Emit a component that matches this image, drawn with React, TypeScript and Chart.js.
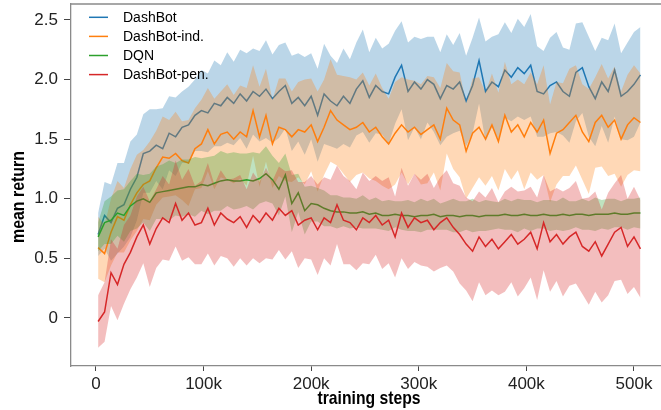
import { useEffect, useRef } from "react";
import { Chart, registerables } from "chart.js";

Chart.register(...registerables);

// training steps (in thousands)
const steps = [
  2, 8, 14, 20, 26, 32, 38, 44, 50, 56,
  62, 68, 74, 80, 86, 92, 98, 104, 110, 116,
  122, 128, 134, 140, 146, 152, 158, 164, 170, 176,
  182, 188, 194, 200, 206, 212, 218, 224, 230, 236,
  242, 248, 254, 260, 266, 272, 278, 284, 290, 296,
  302, 308, 314, 320, 326, 332, 338, 344, 350, 356,
  362, 368, 374, 380, 386, 392, 398, 404, 410, 416,
  422, 428, 434, 440, 446, 452, 458, 464, 470, 476,
  482, 488, 494, 500, 506,
];

const seriesNames = ["DashBot", "DashBot-ind.", "DQN", "DashBot-pen."];
const seriesColors = ["#1f77b4", "#ff7f0e", "#2ca02c", "#d62728"];
const bandColors = [
  "rgba(31,119,180,0.3)",
  "rgba(255,127,14,0.3)",
  "rgba(44,160,44,0.3)",
  "rgba(214,39,40,0.3)",
];

const dashbotMean = [
  0.70, 0.86, 0.80, 0.92, 0.95, 1.08, 1.18, 1.38, 1.40, 1.45,
  1.42, 1.55, 1.52, 1.60, 1.62, 1.70, 1.74, 1.72, 1.80, 1.78,
  1.85, 1.80, 1.88, 1.82, 1.90, 1.86, 1.92, 1.84, 1.90, 1.95,
  1.80, 1.85, 1.78, 1.86, 1.70, 1.88, 1.82, 1.78, 1.86, 1.80,
  1.92, 1.99, 1.85, 1.95, 1.90, 1.88, 2.02, 2.12, 1.90, 1.98,
  1.92, 2.00, 1.96, 1.84, 1.95, 1.92, 1.98, 1.82, 1.95, 2.16,
  1.90, 1.98, 1.94, 2.08, 2.02, 2.10, 2.05, 2.12, 1.90, 1.88,
  1.95, 1.98, 1.90, 1.86, 2.06, 2.10, 1.94, 1.84, 1.98, 1.90,
  2.08, 1.86, 1.90, 1.96, 2.04,
];
const dashbotStd = [
  0.18, 0.28, 0.32, 0.38, 0.35, 0.40, 0.36, 0.33, 0.35, 0.30,
  0.34, 0.31, 0.33, 0.30, 0.32, 0.30, 0.34, 0.33, 0.36, 0.34,
  0.38, 0.35, 0.37, 0.40, 0.36, 0.38, 0.41, 0.37, 0.39, 0.36,
  0.40, 0.37, 0.41, 0.36, 0.39, 0.42, 0.38, 0.36, 0.40, 0.37,
  0.39, 0.43, 0.38, 0.40, 0.36, 0.42, 0.39, 0.37, 0.41, 0.38,
  0.42, 0.36, 0.40, 0.39, 0.43, 0.37, 0.41, 0.38, 0.40, 0.36,
  0.42, 0.38, 0.44, 0.40, 0.37, 0.41, 0.39, 0.43, 0.38, 0.36,
  0.40, 0.42, 0.37, 0.39, 0.41, 0.38, 0.42, 0.40, 0.37, 0.43,
  0.39, 0.36, 0.41, 0.44, 0.40,
];

const indMean = [
  0.59, 0.54, 0.72, 0.85, 0.82, 0.95, 1.05, 1.12, 1.15, 1.26,
  1.35, 1.34, 1.38, 1.32, 1.30, 1.42, 1.46, 1.58, 1.46, 1.54,
  1.56, 1.50, 1.56, 1.52, 1.74, 1.52, 1.70, 1.46, 1.60, 1.58,
  1.52, 1.58, 1.56, 1.62, 1.48, 1.60, 1.74, 1.66, 1.62, 1.58,
  1.60, 1.64, 1.56, 1.60, 1.52, 1.46, 1.55, 1.62, 1.56, 1.60,
  1.54, 1.58, 1.62, 1.50, 1.76, 1.66, 1.62, 1.40, 1.55, 1.60,
  1.50, 1.62, 1.48, 1.70, 1.56, 1.62, 1.52, 1.64, 1.56, 1.66,
  1.38, 1.55, 1.58, 1.64, 1.70, 1.56, 1.48, 1.64, 1.70, 1.60,
  1.66, 1.50, 1.62, 1.68, 1.64,
];
const indStd = [
  0.26, 0.24, 0.28, 0.30, 0.27, 0.30, 0.32, 0.29, 0.33, 0.31,
  0.34, 0.32, 0.35, 0.33, 0.36, 0.34, 0.37, 0.35, 0.38, 0.36,
  0.40, 0.37, 0.39, 0.41, 0.38, 0.42, 0.39, 0.37, 0.41, 0.43,
  0.38, 0.40, 0.44, 0.39, 0.42, 0.40, 0.43, 0.38, 0.41, 0.44,
  0.40, 0.42, 0.39, 0.45, 0.41, 0.38, 0.43, 0.40, 0.44, 0.39,
  0.42, 0.45, 0.40, 0.43, 0.38, 0.41, 0.44, 0.40, 0.46, 0.42,
  0.39, 0.43, 0.41, 0.45, 0.40, 0.38, 0.44, 0.42, 0.40, 0.46,
  0.41, 0.43, 0.39, 0.45, 0.42, 0.40, 0.44, 0.38, 0.43, 0.41,
  0.45, 0.40, 0.42, 0.44, 0.41,
];

const dqnMean = [
  0.68, 0.80, 0.82, 0.88, 0.86, 0.94, 0.98, 1.00, 0.97, 1.05,
  1.06, 1.07, 1.08, 1.09, 1.10, 1.10, 1.12, 1.11, 1.13, 1.15,
  1.16, 1.15, 1.15, 1.16, 1.15, 1.17, 1.21, 1.16, 1.08, 1.20,
  0.96, 1.05, 0.90, 0.96, 0.95, 0.92, 0.90, 0.89, 0.89, 0.88,
  0.88, 0.89, 0.87, 0.88, 0.86, 0.86, 0.87, 0.86, 0.86, 0.85,
  0.86, 0.86, 0.87, 0.85, 0.86, 0.86, 0.85, 0.86, 0.86, 0.85,
  0.86, 0.86, 0.86, 0.87, 0.86, 0.86, 0.87, 0.86, 0.86, 0.87,
  0.86, 0.86, 0.87, 0.86, 0.87, 0.87, 0.86, 0.87, 0.87, 0.87,
  0.88, 0.87, 0.87, 0.88, 0.88,
];
const dqnStd = [
  0.12, 0.18, 0.20, 0.19, 0.22, 0.21, 0.23, 0.20, 0.24, 0.22,
  0.23, 0.25, 0.22, 0.24, 0.23, 0.25, 0.22, 0.24, 0.23, 0.25,
  0.22, 0.24, 0.23, 0.22, 0.24, 0.21, 0.23, 0.20, 0.22, 0.18,
  0.24, 0.16, 0.20, 0.15, 0.14, 0.15, 0.13, 0.14, 0.12, 0.13,
  0.12, 0.14, 0.12, 0.13, 0.12, 0.13, 0.11, 0.12, 0.13, 0.12,
  0.14, 0.12, 0.13, 0.11, 0.12, 0.14, 0.13, 0.12, 0.14, 0.12,
  0.13, 0.12, 0.11, 0.13, 0.12, 0.14, 0.12, 0.13, 0.11, 0.12,
  0.13, 0.12, 0.14, 0.12, 0.11, 0.13, 0.12, 0.14, 0.12, 0.13,
  0.12, 0.11, 0.13, 0.12, 0.13,
];

const penMean = [
  -0.03, 0.05, 0.38, 0.28, 0.45, 0.55, 0.68, 0.78, 0.62, 0.75,
  0.84, 0.80, 0.96, 0.82, 0.88, 0.78, 0.80, 0.92, 0.78, 0.88,
  0.83, 0.80, 0.85, 0.76, 0.86, 0.80, 0.88, 0.82, 0.92, 0.86,
  0.90, 0.78, 0.82, 0.84, 0.74, 0.84, 0.80, 0.95, 0.82, 0.80,
  0.74, 0.84, 0.80, 0.86, 0.78, 0.82, 0.68, 0.88, 0.76, 0.84,
  0.80, 0.82, 0.74, 0.80, 0.84, 0.76, 0.70, 0.62, 0.56, 0.68,
  0.60, 0.66, 0.58, 0.64, 0.70, 0.62, 0.66, 0.72, 0.58, 0.80,
  0.64, 0.70, 0.62, 0.68, 0.72, 0.60, 0.56, 0.64, 0.52, 0.62,
  0.72, 0.76, 0.60, 0.68, 0.58,
];
const penStd = [
  0.22, 0.25, 0.28, 0.30, 0.33, 0.31, 0.34, 0.32, 0.36, 0.33,
  0.35, 0.32, 0.36, 0.34, 0.37, 0.33, 0.35, 0.38, 0.34, 0.36,
  0.33, 0.37, 0.35, 0.32, 0.36, 0.34, 0.38, 0.33, 0.35, 0.37,
  0.34, 0.36, 0.32, 0.35, 0.38, 0.34, 0.36, 0.33, 0.37, 0.35,
  0.34, 0.38, 0.35, 0.33, 0.37, 0.36, 0.34, 0.38, 0.35, 0.37,
  0.36, 0.39, 0.35, 0.38, 0.40, 0.37, 0.41, 0.39, 0.42, 0.38,
  0.41, 0.43, 0.39, 0.42, 0.40, 0.44, 0.41, 0.38, 0.43, 0.40,
  0.42, 0.39, 0.44, 0.41, 0.43, 0.40, 0.45, 0.42, 0.39, 0.43,
  0.41, 0.44, 0.40, 0.42, 0.41,
];

const xTicks = [0, 100, 200, 300, 400, 500];
const xTickLabels = ["0", "100k", "200k", "300k", "400k", "500k"];
const yTicks = [0, 0.5, 1.0, 1.5, 2.0, 2.5];
const yTickLabels = ["0", "0.5", "1.0", "1.5", "2.0", "2.5"];

const xTitle = "training steps";
const yTitle = "mean return";

const means = [dashbotMean, indMean, dqnMean, penMean];
const stds = [dashbotStd, indStd, dqnStd, penStd];

const TICK_FONT = "'Liberation Sans', Arial, sans-serif";
const TITLE_FONT = "bold 19px 'Liberation Sans', Arial, sans-serif";

function drawCondensed(ctx: CanvasRenderingContext2D, text: string, x: number, y: number, width: number) {
  const w = ctx.measureText(text).width;
  const s = w > 0 ? width / w : 1;
  ctx.save();
  ctx.translate(x, y);
  ctx.scale(s, 1);
  ctx.fillText(text, 0, 0);
  ctx.restore();
}

export default function App() {
  const canvasRef = useRef<HTMLCanvasElement | null>(null);

  useEffect(() => {
    const canvas = canvasRef.current;
    if (!canvas) return;

    const datasets: any[] = [];
    means.forEach((mean, k) => {
      const std = stds[k];
      const base = 80 - k * 10;
      const lowerIndex = datasets.length;
      datasets.push({
        label: "_lower" + k,
        data: steps.map((x, i) => ({ x, y: mean[i] - std[i] })),
        borderWidth: 0,
        pointRadius: 0,
        fill: false,
        order: base - 2,
      });
      datasets.push({
        label: "_upper" + k,
        data: steps.map((x, i) => ({ x, y: mean[i] + std[i] })),
        borderWidth: 0,
        pointRadius: 0,
        backgroundColor: bandColors[k],
        fill: { target: lowerIndex },
        order: base - 1,
      });
      datasets.push({
        label: seriesNames[k],
        data: steps.map((x, i) => ({ x, y: mean[i] })),
        borderColor: seriesColors[k],
        borderWidth: 1.5,
        pointRadius: 0,
        fill: false,
        tension: 0,
        order: base,
      });
    });

    const decorPlugin = {
      id: "decor",
      afterDraw(chart: any) {
        const { ctx, chartArea } = chart;
        ctx.save();
        // top spine
        ctx.strokeStyle = "#8a8a8a";
        ctx.lineWidth = 1.3;
        ctx.beginPath();
        ctx.moveTo(chartArea.left, chartArea.top);
        ctx.lineTo(chartArea.right, chartArea.top);
        ctx.stroke();

        // legend
        ctx.font = "14px " + TICK_FONT;
        ctx.textBaseline = "middle";
        ctx.textAlign = "left";
        seriesNames.forEach((name, k) => {
          const y = chartArea.top + 13.3 + k * 19.1;
          ctx.strokeStyle = seriesColors[k];
          ctx.lineWidth = 1.5;
          ctx.beginPath();
          ctx.moveTo(chartArea.left + 18, y);
          ctx.lineTo(chartArea.left + 37, y);
          ctx.stroke();
          ctx.fillStyle = "#000";
          ctx.fillText(name, chartArea.left + 52, y + 0.5);
        });

        // axis titles
        ctx.fillStyle = "#000";
        ctx.font = TITLE_FONT;
        ctx.textAlign = "center";
        ctx.textBaseline = "alphabetic";
        drawCondensed(ctx, xTitle, (chartArea.left + chartArea.right) / 2 + 3, 404, 103);
        ctx.save();
        ctx.translate(24, 197);
        ctx.rotate(-Math.PI / 2);
        drawCondensed(ctx, yTitle, 0, 0, 92);
        ctx.restore();
        ctx.restore();
      },
    };

    const chart = new Chart(canvas, {
      type: "line",
      data: { datasets },
      options: {
        animation: false,
        responsive: true,
        maintainAspectRatio: false,
        layout: { padding: { top: 4, right: 0, left: 0, bottom: 0 } },
        plugins: {
          legend: { display: false },
          tooltip: { enabled: false },
          filler: { drawTime: "beforeDatasetDraw" },
        },
        scales: {
          x: {
            type: "linear",
            min: -23.2,
            max: 525.1,
            afterBuildTicks: (scale: any) => {
              scale.ticks = xTicks.map((v) => ({ value: v }));
            },
            afterFit: (scale: any) => {
              scale.height = 44;
              scale.paddingLeft = 0;
              scale.paddingRight = 0;
            },
            ticks: {
              autoSkip: false,
              maxRotation: 0,
              padding: 3,
              color: "#222",
              font: { family: TICK_FONT, size: 17 },
              callback: (v: any) => xTickLabels[xTicks.indexOf(Number(v))] ?? "",
            },
            grid: {
              display: true,
              drawOnChartArea: false,
              drawTicks: true,
              tickLength: 5,
              tickColor: "#444",
              tickWidth: 1,
            },
            border: { display: true, color: "#8a8a8a", width: 1.3 },
          },
          y: {
            type: "linear",
            min: -0.403,
            max: 2.634,
            afterBuildTicks: (scale: any) => {
              scale.ticks = yTicks.map((v) => ({ value: v }));
            },
            afterFit: (scale: any) => {
              scale.width = 71;
              scale.paddingTop = 0;
              scale.paddingBottom = 0;
            },
            ticks: {
              autoSkip: false,
              padding: 6,
              color: "#222",
              font: { family: TICK_FONT, size: 17 },
              callback: (v: any) => yTickLabels[yTicks.indexOf(Number(v))] ?? "",
            },
            grid: {
              display: true,
              drawOnChartArea: false,
              drawTicks: true,
              tickLength: 7,
              tickColor: "#444",
              tickWidth: 1,
            },
            border: { display: true, color: "#8a8a8a", width: 1.3 },
          },
        },
      },
      plugins: [decorPlugin],
    });

    return () => {
      chart.destroy();
    };
  }, []);

  return (
    <div
      style={{
        position: "fixed",
        left: 0,
        top: 0,
        width: "661px",
        height: "410px",
        background: "#fff",
      }}
    >
      <canvas ref={canvasRef} />
    </div>
  );
}
